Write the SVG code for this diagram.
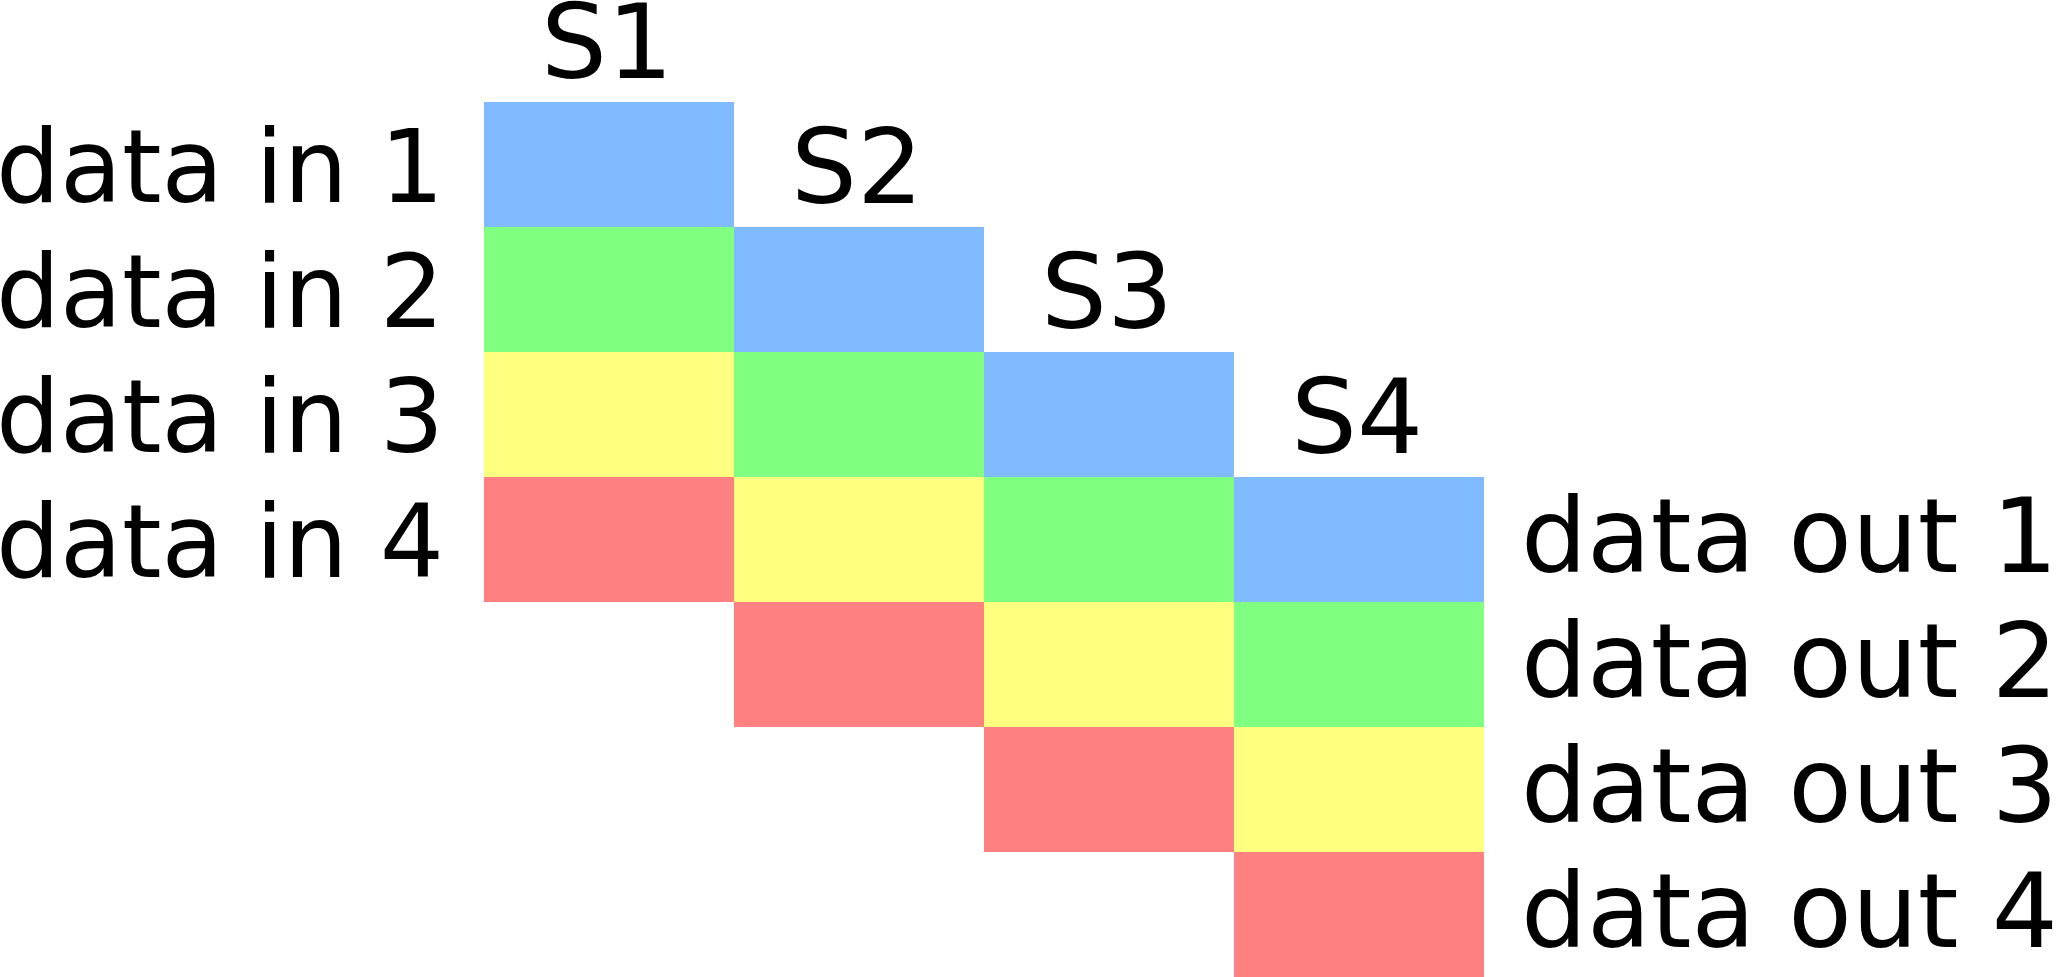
<svg xmlns="http://www.w3.org/2000/svg" width="2056" height="977" viewBox="0 0 2056 977">
<style>
text{font-family:"DejaVu Sans",sans-serif;font-size:104px;fill:#000}
.in{font-size:101px}
.b{fill:#80bbff}.g{fill:#80ff80}.y{fill:#ffff80}.r{fill:#ff8080}
.m{text-anchor:middle}
</style>
<rect width="2056" height="977" fill="#fff"/>
<g id="stage1">
<text class="m" x="607" y="78">S1</text>
<rect class="b" x="484" y="102" width="250" height="125"/>
<rect class="g" x="484" y="227" width="250" height="125"/>
<rect class="y" x="484" y="352" width="250" height="125"/>
<rect class="r" x="484" y="477" width="250" height="125"/>
</g>
<g id="stage2">
<text class="m" x="857" y="203">S2</text>
<rect class="b" x="734" y="227" width="250" height="125"/>
<rect class="g" x="734" y="352" width="250" height="125"/>
<rect class="y" x="734" y="477" width="250" height="125"/>
<rect class="r" x="734" y="602" width="250" height="125"/>
</g>
<g id="stage3">
<text class="m" x="1107" y="328">S3</text>
<rect class="b" x="984" y="352" width="250" height="125"/>
<rect class="g" x="984" y="477" width="250" height="125"/>
<rect class="y" x="984" y="602" width="250" height="125"/>
<rect class="r" x="984" y="727" width="250" height="125"/>
</g>
<g id="stage4">
<text class="m" x="1357" y="453">S4</text>
<rect class="b" x="1234" y="477" width="250" height="125"/>
<rect class="g" x="1234" y="602" width="250" height="125"/>
<rect class="y" x="1234" y="727" width="250" height="125"/>
<rect class="r" x="1234" y="852" width="250" height="125"/>
</g>
<g id="inputs">
<text class="in" x="-4" y="202">data in 1</text>
<text class="in" x="-4" y="327">data in 2</text>
<text class="in" x="-4" y="452">data in 3</text>
<text class="in" x="-4" y="577">data in 4</text>
</g>
<g id="outputs">
<text x="1521" y="572">data out 1</text>
<text x="1521" y="697">data out 2</text>
<text x="1521" y="822">data out 3</text>
<text x="1521" y="947">data out 4</text>
</g>
<g id="connectors"/>
</svg>
